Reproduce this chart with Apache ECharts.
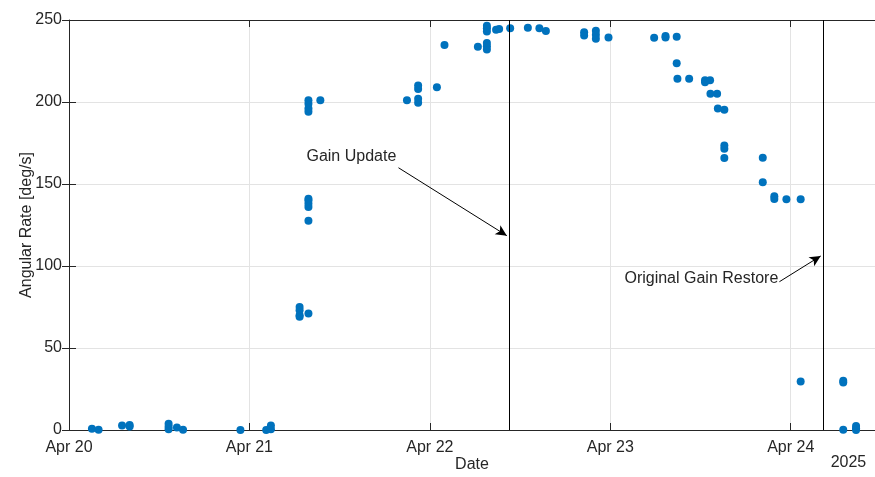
<!DOCTYPE html>
<html>
<head>
<meta charset="utf-8">
<script src="https://cdn.jsdelivr.net/npm/echarts@6/dist/echarts.min.js"></script>
<style>
html,body{margin:0;padding:0;background:#fff;}
#chart{width:875px;height:477px;}
</style>
</head>
<body>
<div id="chart"></div>
<script>
// x values: days since Apr 20 00:00 (2025)
const dayOffset = [
  0.127, 0.164, 0.294, 0.336, 0.336, 0.552, 0.552, 0.552, 0.598, 0.632,
  0.950, 1.093, 1.119, 1.119,
  1.278, 1.278, 1.278, 1.278, 1.327,
  1.327, 1.327, 1.327, 1.327, 1.327,
  1.327, 1.327, 1.327, 1.327, 1.393,
  1.873, 1.935, 1.935, 1.935, 1.935, 2.039, 2.081,
  2.266, 2.316, 2.316, 2.316, 2.316, 2.316, 2.316,
  2.367, 2.384, 2.445, 2.543, 2.607, 2.643,
  2.855, 2.855, 2.920, 2.920, 2.920, 2.990,
  3.243, 3.306, 3.306, 3.368, 3.368, 3.372, 3.437,
  3.525, 3.525, 3.553, 3.555, 3.592, 3.596, 3.632,
  3.632, 3.632, 3.632, 3.845, 3.845, 3.909, 3.909, 3.976, 4.055,
  4.055, 4.291, 4.291, 4.291, 4.362, 4.362, 4.362
];
const rate = [
  0.8, 0.2, 2.8, 2.2, 3.0, 0.5, 2.0, 3.8, 1.5, 0.2,
  0, 0, 0.5, 2.8,
  75, 73, 70, 69, 71,
  127.6, 136, 138, 140, 141,
  194, 196, 199, 201, 201,
  201, 199.5, 202, 208, 210, 209, 234.8,
  233.7, 232, 234, 236, 243, 245, 246.5,
  244, 244.5, 245, 245.3, 245, 243.3,
  242.5, 240.5, 243.5, 241, 238.5, 239.4,
  239.2, 239.3, 240.3, 239.8, 223.6, 214.2, 214.2,
  213.2, 212, 213.2, 205, 205, 196, 195.3,
  173.5, 171.5, 165.8, 166, 151, 142.5, 140.8, 140.7, 140.7,
  29.5, 30, 29, 0.2, 2.5, 1, 0
];
const dayTickLabels = ['Apr 20', 'Apr 21', 'Apr 22', 'Apr 23', 'Apr 24'];
const yearLabel = '2025';
const xMaxDay = 4.467;
const yTicks = [0, 50, 100, 150, 200, 250];

// annotations (days since Apr 20, deg/s)
const gainUpdateDay = 2.4377;
const gainRestoreDay = 4.179;
const gainUpdateText = 'Gain Update';
const gainUpdateTextPos = [1.316, 166];
const gainUpdateArrow = [[1.826, 159.9], [2.4266, 118.5]];
const restoreText = 'Original Gain Restore';
const restoreTextPos = [3.931, 92.5];
const restoreArrow = [[3.937, 90.4], [4.166, 106.1]];

const FONT = '"Liberation Sans", Arial, Helvetica, sans-serif';
const TXT = '#262626';
const AX = '#262626';
const GRIDC = '#e3e3e3';

const chart = echarts.init(document.getElementById('chart'), null, {renderer: 'canvas'});

const points = dayOffset.map((d, i) => [d, rate[i]]);

const option = {
  animation: false,
  backgroundColor: '#fff',
  textStyle: {fontFamily: FONT},
  grid: {left: 69, right: 0, top: 20, bottom: 47, containLabel: false, outerBoundsMode: 'none'},
  xAxis: [{
    type: 'value', min: 0, max: xMaxDay, interval: 1,
    position: 'bottom',
    name: 'Date', nameLocation: 'middle', nameGap: 27, nameMoveOverlap: false,
    nameTextStyle: {color: TXT, fontSize: 16, fontFamily: FONT},
    axisLine: {show: true, onZero: false, lineStyle: {color: AX, width: 1}},
    axisTick: {show: true, inside: true, length: 7, lineStyle: {color: AX}},
    axisLabel: {
      color: TXT, fontSize: 16, fontFamily: FONT, margin: 10,
      showMaxLabel: false,
      formatter: v => {
        const r = Math.round(v);
        return Math.abs(v - r) < 1e-6 && dayTickLabels[r] ? dayTickLabels[r] : '';
      }
    },
    splitLine: {show: true, lineStyle: {color: GRIDC, width: 1}}
  }, {
    type: 'value', min: 0, max: xMaxDay, interval: 1,
    position: 'top',
    axisLine: {show: true, onZero: false, lineStyle: {color: AX, width: 1}},
    axisTick: {show: true, inside: true, length: 7, lineStyle: {color: AX}},
    axisLabel: {show: false},
    splitLine: {show: false}
  }],
  yAxis: [{
    type: 'value', min: yTicks[0], max: yTicks[yTicks.length - 1], interval: 50,
    name: 'Angular Rate [deg/s]', nameLocation: 'middle', nameGap: 34, nameMoveOverlap: false,
    nameTextStyle: {color: TXT, fontSize: 16, fontFamily: FONT},
    axisLine: {show: true, onZero: false, lineStyle: {color: AX, width: 1}},
    axisTick: {show: true, inside: true, length: 7, lineStyle: {color: AX}},
    axisLabel: {color: TXT, fontSize: 16, fontFamily: FONT, margin: 7},
    splitLine: {show: true, lineStyle: {color: GRIDC, width: 1}}
  }, {
    type: 'value', min: yTicks[0], max: yTicks[yTicks.length - 1], interval: 50,
    position: 'right',
    axisLine: {show: false},
    axisTick: {show: true, inside: true, length: 7, lineStyle: {color: AX}},
    axisLabel: {show: false},
    splitLine: {show: false}
  }],
  series: [{
    type: 'scatter',
    xAxisIndex: 0, yAxisIndex: 0,
    data: points,
    symbol: 'circle',
    symbolSize: 8,
    itemStyle: {color: '#0072BD', opacity: 1},
    z: 3,
    markLine: {
      silent: true,
      symbol: ['none', 'none'],
      label: {show: false},
      lineStyle: {color: '#000', width: 1, type: 'solid'},
      data: [
        {xAxis: gainUpdateDay},
        {xAxis: gainRestoreDay},
        [{coord: gainUpdateArrow[0], symbol: 'none'}, {coord: gainUpdateArrow[1], symbol: 'arrow', symbolSize: [8, 11]}],
        [{coord: restoreArrow[0], symbol: 'none'}, {coord: restoreArrow[1], symbol: 'arrow', symbolSize: [8, 11]}]
      ]
    }
  }]
};
chart.setOption(option);

function px(p) { return chart.convertToPixel({xAxisIndex: 0, yAxisIndex: 0}, p); }
const g1 = px(gainUpdateTextPos);
const g2 = px(restoreTextPos);
const yr = px([4.32, 0]);
chart.setOption({
  graphic: [
    {type: 'text', left: g1[0], top: g1[1] - 9, z: 10,
     style: {text: gainUpdateText, fill: TXT, font: '16px ' + FONT}},
    {type: 'text', x: g2[0], y: g2[1], z: 10,
     style: {text: restoreText, fill: TXT, font: '16px ' + FONT, align: 'right', verticalAlign: 'middle'}},
    {type: 'text', x: yr[0], y: yr[1] + 33, z: 10,
     style: {text: yearLabel, fill: TXT, font: '16px ' + FONT, align: 'center', verticalAlign: 'middle'}}
  ]
});
</script>
</body>
</html>
